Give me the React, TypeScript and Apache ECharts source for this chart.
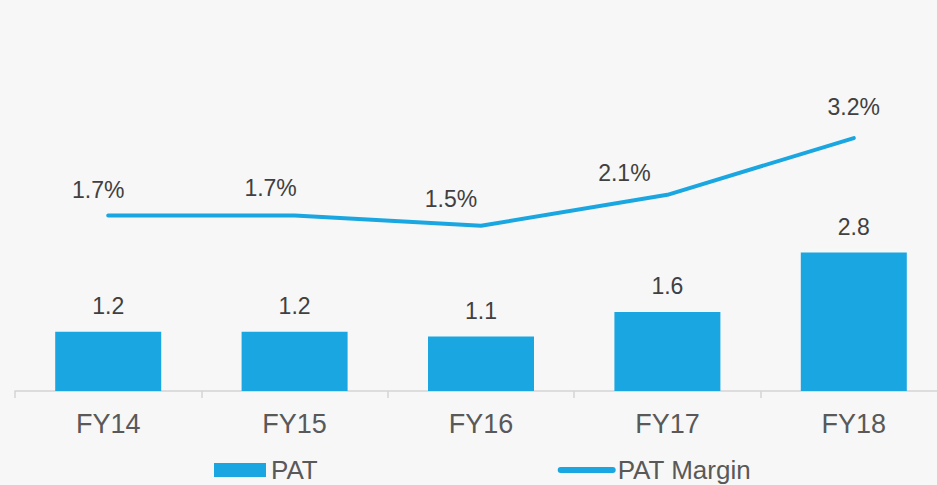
import React, { useEffect, useRef } from "react";
import * as echarts from "echarts";

const categories = ["FY14", "FY15", "FY16", "FY17", "FY18"];
const patValues = [1.2, 1.2, 1.1, 1.6, 2.8];
const marginValues = [1.7, 1.7, 1.5, 2.1, 3.2];
const seriesNames = ["PAT", "PAT Margin"];

// label placement tweaks (style, not data)
const marginLabelOffsets: [number, number][] = [
  [-10, 0],
  [-24, -2],
  [-30, -2],
  [-43, 3],
  [0, -6],
];

const BLUE = "#1AA7E1";
const FONT = "Liberation Sans, Arial, Helvetica, sans-serif";

export default function App() {
  const ref = useRef<HTMLDivElement>(null);
  useEffect(() => {
    if (!ref.current) return;
    const chart = echarts.init(ref.current, undefined, { renderer: "svg" });
    chart.setOption({
      animation: false,
      backgroundColor: "#f7f7f7",
      textStyle: { fontFamily: FONT },
      grid: {
        left: 15,
        right: -10,
        top: 41,
        bottom: 94,
        containLabel: false,
        outerBoundsMode: "none",
      },
      legend: {
        left: 209,
        top: 452,
        itemWidth: 52,
        itemHeight: 14,
        itemGap: 240,
        textStyle: { fontSize: 26, color: "#595959", fontFamily: FONT },
        data: [
          { name: seriesNames[0], icon: "rect" },
          {
            name: seriesNames[1],
            itemStyle: { color: "rgba(0,0,0,0)", borderWidth: 0 },
            lineStyle: { color: BLUE, width: 6, cap: "round" },
          },
        ],
      },
      xAxis: {
        type: "category",
        data: categories,
        boundaryGap: true,
        axisLine: { show: true, lineStyle: { color: "#d4d4d4", width: 1.5 } },
        axisTick: { show: true, length: 7, alignWithLabel: false, lineStyle: { color: "#d4d4d4", width: 1.5 } },
        axisLabel: { fontSize: 27, color: "#595959", margin: 19, fontFamily: FONT },
      },
      yAxis: [
        { type: "value", min: 0, max: 7.08, show: false, splitLine: { show: false } },
        { type: "value", min: -1.7, max: 5.08, show: false, splitLine: { show: false } },
      ],
      series: [
        {
          name: seriesNames[0],
          type: "bar",
          data: patValues,
          barWidth: 106,
          itemStyle: { color: BLUE },
          label: {
            show: true,
            position: "top",
            distance: 14,
            fontSize: 23,
            color: "#404040",
            fontFamily: FONT,
            formatter: (p: any) => Number(p.value).toFixed(1),
          },
        },
        {
          name: seriesNames[1],
          type: "line",
          yAxisIndex: 1,
          data: marginValues.map((v, i) => ({
            value: v,
            label: { offset: marginLabelOffsets[i] },
          })),
          symbol: "circle",
          symbolSize: 1,
          showSymbol: true,
          lineStyle: { color: BLUE, width: 4, cap: "round", join: "round" },
          itemStyle: { color: BLUE },
          label: {
            show: true,
            position: "top",
            distance: 13,
            fontSize: 23,
            color: "#404040",
            fontFamily: FONT,
            formatter: (p: any) => Number(p.value).toFixed(1) + "%",
          },
        },
      ],
    });
    return () => chart.dispose();
  }, []);
  return (
    <div
      ref={ref}
      style={{ position: "fixed", left: 0, top: 0, width: 937, height: 485 }}
    />
  );
}
